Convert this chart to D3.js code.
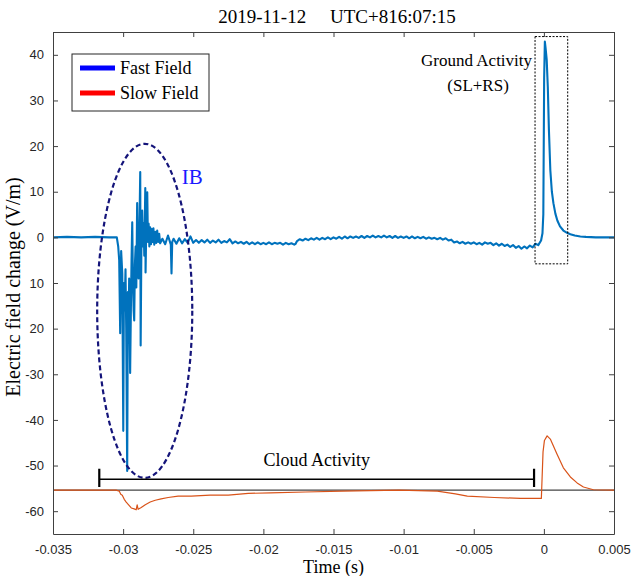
<!DOCTYPE html>
<html>
<head>
<meta charset="utf-8">
<script src="https://cdn.jsdelivr.net/npm/d3@7"></script>
<style>
  body { margin: 0; background: #fff; }
  svg { display: block; }
</style>
</head>
<body>
<div id="chart"></div>
<script>
// tick values and their labels as printed on the figure
var xTicks = [-0.035, -0.03, -0.025, -0.02, -0.015, -0.01, -0.005, 0, 0.005];
var xTickLabels = ["-0.035", "-0.03", "-0.025", "-0.02", "-0.015", "-0.01", "-0.005", "0", "0.005"];
var yTicks = [-60, -50, -40, -30, -20, -10, 0, 10, 20, 30, 40];
var yTickLabels = ["-60", "-50", "-40", "-30", "20", "10", "0", "10", "20", "30", "40"];

// fast field (time s, V/m)
var fastField = [
  [-0.0350, 0.0], [-0.0340, 0.1], [-0.0330, 0.0], [-0.0320, 0.1], [-0.0310, 0.0], [-0.03045, 0.0],
  [-0.03035, -2.0], [-0.03028, -5.0], [-0.03021, -21.0], [-0.03014, -3.0], [-0.03006, -8.0],
  [-0.02999, -42.4], [-0.02994, -10.0], [-0.02989, -16.0], [-0.02983, -7.0], [-0.02978, -20.0],
  [-0.02971, -51.2], [-0.02966, -12.0], [-0.02962, -23.0], [-0.02957, -9.0], [-0.02950, -29.7],
  [-0.02944, -14.0], [-0.02940, -5.0], [-0.02935, 3.3], [-0.02930, -10.0], [-0.02925, -16.0],
  [-0.02921, -18.2], [-0.02916, -6.0], [-0.02911, -2.0], [-0.02906, -11.0], [-0.02900, 7.5],
  [-0.02895, -4.0], [-0.02890, -9.0], [-0.02884, 1.5], [-0.02878, 14.3], [-0.02875, -23.7],
  [-0.02870, -3.0], [-0.02864, 5.9], [-0.02859, -2.0], [-0.02854, 3.0], [-0.02849, -4.0],
  [-0.02842, 10.8], [-0.02840, -7.7], [-0.02835, 2.0], [-0.02828, 9.9], [-0.02823, -1.0],
  [-0.02818, 3.0], [-0.02813, -2.0], [-0.02807, 2.2], [-0.02801, -1.5], [-0.02795, 1.8],
  [-0.02790, -1.0], [-0.02784, 2.0], [-0.02778, -1.6], [-0.02771, 1.2], [-0.02764, -1.2],
  [-0.02757, 1.5], [-0.02750, -1.0], [-0.02743, 0.8], [-0.02736, -1.3],
  [-0.0272, -0.3], [-0.0270, -1.5], [-0.0268, 0.4], [-0.0266, -1.6], [-0.02655, -7.9],
  [-0.0265, -1.0], [-0.0264, -0.3], [-0.0262, -1.4], [-0.0260, -0.2], [-0.0258, -1.3],
  [-0.0256, -0.4], [-0.0254, -1.2], [-0.0252, 0.2], [-0.0250, -1.2], [-0.0248, -0.6],
  [-0.0246, -1.2], [-0.0244, -0.6], [-0.0242, -1.1], [-0.0240, -0.5], [-0.0238, -1.2],
  [-0.0236, -0.7], [-0.0234, -1.1], [-0.0232, -0.5], [-0.0230, -1.2], [-0.0228, -0.8],
  [-0.0226, -1.1], [-0.0224, -0.4], [-0.0222, -1.3], [-0.0220, -0.9], [-0.0218, -1.3],
  [-0.0216, -1.0], [-0.0214, -1.4], [-0.0212, -1.0], [-0.0210, -1.5], [-0.0208, -1.1],
  [-0.0206, -1.5], [-0.0204, -1.1], [-0.0202, -1.5], [-0.0200, -1.2], [-0.0198, -1.5],
  [-0.0196, -1.1], [-0.0194, -1.5], [-0.0192, -1.2], [-0.0190, -1.4], [-0.0188, -1.2],
  [-0.0186, -1.6], [-0.0184, -1.2], [-0.0182, -1.5], [-0.0180, -1.3], [-0.0178, -1.6],
  [-0.0177, -1.4], [-0.0176, -0.8], [-0.0174, -0.4], [-0.0172, -0.7], [-0.0170, -0.3],
  [-0.0168, -0.6], [-0.0166, -0.2], [-0.0164, -0.5], [-0.0162, -0.1], [-0.0160, -0.5],
  [-0.0158, -0.1], [-0.0156, -0.4], [-0.0154, 0.0], [-0.0152, -0.4], [-0.0150, 0.0],
  [-0.0148, -0.3], [-0.0146, 0.1], [-0.0144, -0.3], [-0.0142, 0.2], [-0.0140, -0.2],
  [-0.0138, 0.2], [-0.0136, -0.1], [-0.0134, 0.2], [-0.0132, -0.1], [-0.0130, 0.3],
  [-0.0128, -0.1], [-0.0126, 0.3], [-0.0124, 0.0], [-0.0122, 0.4], [-0.0120, 0.0],
  [-0.0118, 0.3], [-0.0116, 0.0], [-0.0114, 0.4], [-0.0112, 0.0], [-0.0110, 0.3],
  [-0.0108, -0.1], [-0.0106, 0.3], [-0.0104, -0.1], [-0.0102, 0.2], [-0.0100, -0.1],
  [-0.0098, 0.2], [-0.0096, -0.2], [-0.0094, 0.2], [-0.0092, -0.2], [-0.0090, 0.1],
  [-0.0088, -0.2], [-0.0086, 0.1], [-0.0084, -0.3], [-0.0082, 0.0], [-0.0080, -0.3],
  [-0.0078, -0.1], [-0.0076, -0.4], [-0.0074, -0.1], [-0.0072, -0.5], [-0.0070, -0.2],
  [-0.0068, -0.7], [-0.0066, -0.5], [-0.0064, -1.1], [-0.0062, -0.9], [-0.0060, -1.3],
  [-0.0058, -1.0], [-0.0056, -1.4], [-0.0054, -1.1], [-0.0052, -1.4], [-0.0050, -1.1],
  [-0.0048, -1.5], [-0.0046, -1.2], [-0.0044, -1.6], [-0.0042, -1.1], [-0.0040, -1.4],
  [-0.0038, -1.2], [-0.0036, -1.7], [-0.0034, -1.3], [-0.0032, -1.8], [-0.0030, -1.4],
  [-0.0028, -1.9], [-0.0026, -1.6], [-0.0024, -2.1], [-0.0022, -1.7], [-0.0020, -2.3],
  [-0.0018, -1.9], [-0.0016, -2.5], [-0.0014, -2.0], [-0.0012, -2.4], [-0.0010, -1.8],
  [-0.0008, -2.2], [-0.0006, -1.4], [-0.0004, -1.7], [-0.0002, -0.7], [-0.0001, 0.9],
  [-0.00004, 5.0], [0.00002, 35.0], [0.00007, 42.9], [0.00012, 41.5], [0.00020, 39.0],
  [0.00028, 33.0], [0.00036, 23.5], [0.00046, 14.7], [0.00057, 10.0], [0.00068, 7.5],
  [0.00082, 5.2], [0.00096, 3.7], [0.00115, 2.4], [0.00139, 1.5], [0.00165, 1.0],
  [0.00189, 0.7], [0.0022, 0.4], [0.0026, 0.2], [0.0030, 0.1], [0.0037, 0.0], [0.0050, 0.0]
];

// slow field (time s, V/m)
var slowField = [
  [-0.0350, -55.4], [-0.0305, -55.4], [-0.03028, -55.6], [-0.03017, -56.3], [-0.03006, -56.5],
  [-0.02992, -57.4], [-0.02978, -58.0], [-0.02964, -58.5], [-0.02942, -59.3], [-0.02921, -59.5],
  [-0.02907, -59.7], [-0.02900, -58.6], [-0.02893, -59.6], [-0.02871, -59.2], [-0.02842, -58.6],
  [-0.02807, -58.0], [-0.02771, -57.6], [-0.02729, -57.3], [-0.02679, -57.0], [-0.02608, -56.7],
  [-0.02514, -56.7], [-0.02379, -56.5], [-0.02250, -56.5], [-0.02108, -56.1], [-0.01951, -56.0],
  [-0.01701, -55.8], [-0.01437, -55.6], [-0.01031, -55.4], [-0.00760, -55.6], [-0.00631, -56.2],
  [-0.00546, -56.7], [-0.00353, -57.0], [-0.00168, -57.2], [-0.00018, -57.2], [-0.00006, -47.0],
  [0.00004, -44.5], [0.00023, -43.5], [0.00046, -44.2], [0.00094, -47.5], [0.00139, -50.5],
  [0.00189, -52.5], [0.00237, -53.8], [0.00282, -54.7], [0.00353, -55.3], [0.0050, -55.4]
];

var slowBaseline = -55.4;

// annotations
var ibEllipse = {cx: -0.02846, cy: -16.1, rx: 0.00339, ry: 36.6};
var groundBox = {x0: -0.00063, x1: 0.00170, y0: 44.0, y1: -5.8};
var cloudBracket = {x0: -0.0317, x1: -0.0007, y: -53.0, capTop: -50.7, capBottom: -54.7};

var legendItems = [
  {name: "Fast Field", color: "#0000ff"},
  {name: "Slow Field", color: "#ff0000"}
];

var serif = "'Liberation Serif', 'Times New Roman', serif";
var sans = "'Liberation Sans', Arial, sans-serif";

var margin = {top: 32, right: 20, bottom: 42, left: 53};
var width = 634 - margin.left - margin.right;
var height = 576 - margin.top - margin.bottom;

var svg = d3.select("#chart")
    .append("svg")
    .attr("width", 634)
    .attr("height", 576);

var g = svg.append("g")
    .attr("transform", "translate(" + margin.left + "," + margin.top + ")");

var x = d3.scaleLinear()
    .domain([-0.035, 0.005])
    .range([0, width]);

var y = d3.scaleLinear()
    .domain([-65, 45])
    .range([height, 0]);

var line = d3.line()
    .x(function(d) { return x(d[0]); })
    .y(function(d) { return y(d[1]); });

// clip so nothing spills over the box
g.append("clipPath").attr("id", "clip")
    .append("rect").attr("width", width).attr("height", height);

var plot = g.append("g").attr("clip-path", "url(#clip)");

// baseline of the slow field
plot.append("line")
    .attr("x1", 0).attr("x2", width)
    .attr("y1", y(slowBaseline)).attr("y2", y(slowBaseline))
    .attr("stroke", "#444")
    .attr("stroke-width", 1.3);

plot.append("path")
    .attr("d", line(slowField))
    .attr("fill", "none")
    .attr("stroke", "#D95319")
    .attr("stroke-width", 1.2)
    .attr("stroke-linejoin", "round");

plot.append("path")
    .attr("d", line(fastField))
    .attr("fill", "none")
    .attr("stroke", "#0072BD")
    .attr("stroke-width", 2.1)
    .attr("stroke-linejoin", "round");

// IB ellipse
plot.append("ellipse")
    .attr("cx", x(ibEllipse.cx))
    .attr("cy", y(ibEllipse.cy))
    .attr("rx", x(ibEllipse.cx + ibEllipse.rx) - x(ibEllipse.cx))
    .attr("ry", y(ibEllipse.cy - ibEllipse.ry) - y(ibEllipse.cy))
    .attr("fill", "none")
    .attr("stroke", "#14147a")
    .attr("stroke-width", 2.2)
    .attr("stroke-dasharray", "5,3");

g.append("text")
    .attr("x", x(ibEllipse.cx) + 37)
    .attr("y", 152)
    .attr("font-family", serif)
    .attr("font-size", 21)
    .attr("fill", "#1a1aff")
    .text("IB");

// ground activity box
plot.append("rect")
    .attr("x", x(groundBox.x0))
    .attr("y", y(groundBox.y0))
    .attr("width", x(groundBox.x1) - x(groundBox.x0))
    .attr("height", y(groundBox.y1) - y(groundBox.y0))
    .attr("fill", "none")
    .attr("stroke", "#000")
    .attr("stroke-width", 1)
    .attr("stroke-dasharray", "2,1.5");

g.append("text")
    .attr("x", x(groundBox.x0) - 3)
    .attr("y", 34)
    .attr("text-anchor", "end")
    .attr("font-family", serif)
    .attr("font-size", 17)
    .text("Ground Activity");

g.append("text")
    .attr("x", x(groundBox.x0) - 57)
    .attr("y", 59)
    .attr("text-anchor", "middle")
    .attr("font-family", serif)
    .attr("font-size", 17)
    .text("(SL+RS)");

// cloud activity bracket
var br = g.append("g").attr("stroke", "#000");
br.append("line")
    .attr("x1", x(cloudBracket.x0)).attr("x2", x(cloudBracket.x1))
    .attr("y1", y(cloudBracket.y)).attr("y2", y(cloudBracket.y))
    .attr("stroke-width", 1.3);
[cloudBracket.x0, cloudBracket.x1].forEach(function(v) {
  br.append("line")
      .attr("x1", x(v)).attr("x2", x(v))
      .attr("y1", y(cloudBracket.capTop)).attr("y2", y(cloudBracket.capBottom))
      .attr("stroke-width", 2.2);
});

g.append("text")
    .attr("x", (x(cloudBracket.x0) + x(cloudBracket.x1)) / 2)
    .attr("y", y(cloudBracket.capTop) - 3)
    .attr("text-anchor", "middle")
    .attr("font-family", serif)
    .attr("font-size", 18)
    .text("Cloud Activity");

// axes, ticks pointing inward
function styleAxis(sel) {
  sel.selectAll("path").attr("stroke", "#404040");
  sel.selectAll("line").attr("stroke", "#404040");
  sel.selectAll("text").attr("font-family", sans).attr("font-size", 13).attr("fill", "#262626");
}

g.append("g")
    .attr("transform", "translate(0," + height + ")")
    .call(d3.axisBottom(x).tickValues(xTicks).tickSizeInner(-5).tickSizeOuter(0).tickPadding(11)
        .tickFormat(function(d, i) { return xTickLabels[i]; }))
    .call(styleAxis);

g.append("g")
    .call(d3.axisTop(x).tickValues(xTicks).tickSizeInner(-5).tickSizeOuter(0).tickFormat(""))
    .call(styleAxis);

g.append("g")
    .call(d3.axisLeft(y).tickValues(yTicks).tickSizeInner(-5).tickSizeOuter(0).tickPadding(9)
        .tickFormat(function(d, i) { return yTickLabels[i]; }))
    .call(styleAxis);

g.append("g")
    .attr("transform", "translate(" + width + ",0)")
    .call(d3.axisRight(y).tickValues(yTicks).tickSizeInner(-5).tickSizeOuter(0).tickFormat(""))
    .call(styleAxis);

// axis labels
g.append("text")
    .attr("x", width / 2)
    .attr("y", height + 39)
    .attr("text-anchor", "middle")
    .attr("font-family", serif)
    .attr("font-size", 18)
    .text("Time (s)");

g.append("text")
    .attr("transform", "rotate(-90)")
    .attr("x", -height / 2 - 4)
    .attr("y", -33)
    .attr("text-anchor", "middle")
    .attr("font-family", serif)
    .attr("font-size", 20)
    .text("Electric field change (V/m)");

// title
svg.append("text")
    .attr("x", 337)
    .attr("y", 23)
    .attr("text-anchor", "middle")
    .attr("font-family", serif)
    .attr("font-size", 19)
    .style("white-space", "pre")
    .text("2019-11-12     UTC+816:07:15");

// legend
var legend = g.append("g").attr("transform", "translate(19,22)");
legend.append("rect")
    .attr("width", 137).attr("height", 57)
    .attr("fill", "#fff")
    .attr("stroke", "#262626")
    .attr("stroke-width", 1);

legend.selectAll(".item")
    .data(legendItems)
    .enter()
    .append("g")
    .attr("transform", function(d, i) { return "translate(0," + (14 + i * 25) + ")"; })
    .each(function(d) {
      var it = d3.select(this);
      it.append("line")
          .attr("x1", 8).attr("x2", 43)
          .attr("stroke", d.color)
          .attr("stroke-width", 5);
      it.append("text")
          .attr("x", 48).attr("y", 6)
          .attr("font-family", serif)
          .attr("font-size", 18)
          .text(d.name);
    });
</script>
</body>
</html>
